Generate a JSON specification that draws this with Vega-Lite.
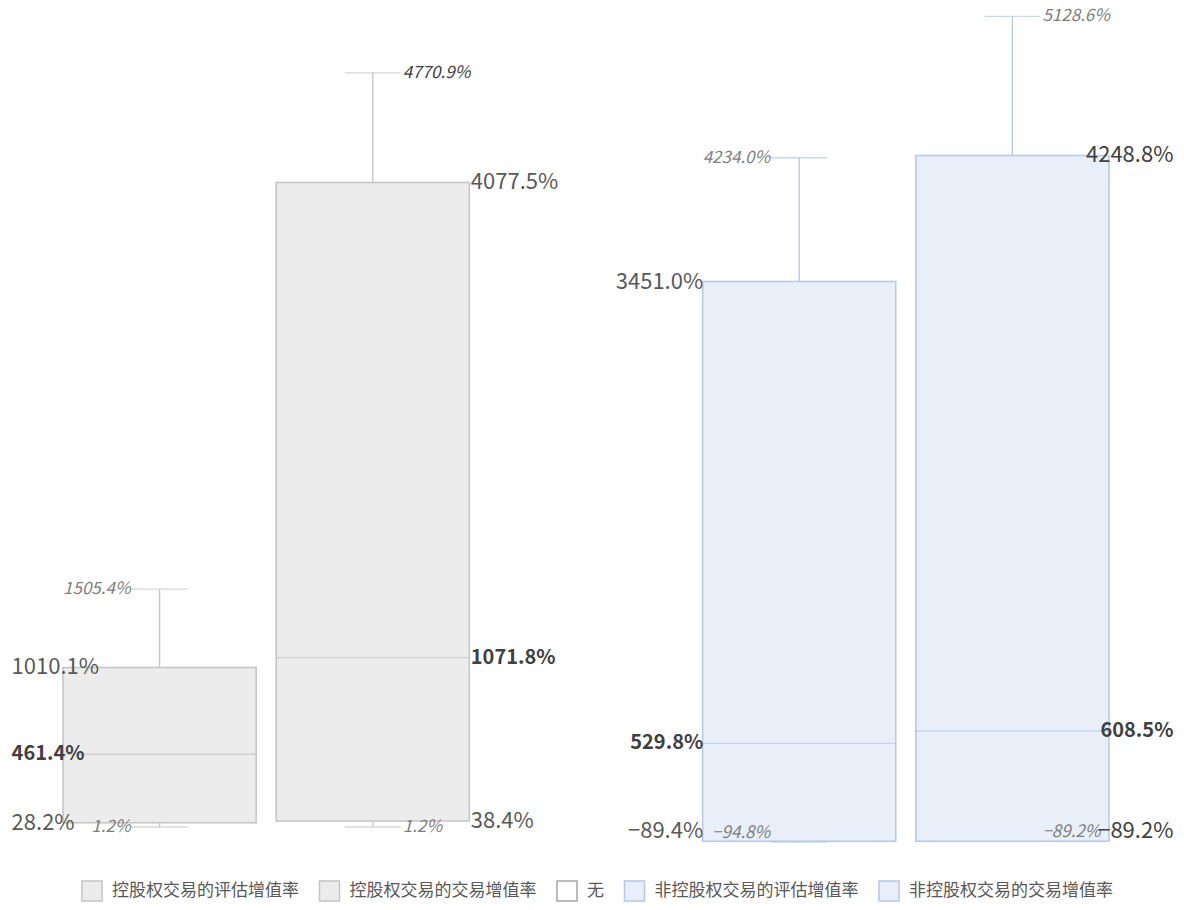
{
  "$schema": "https://vega.github.io/schema/vega-lite/v6.json",
  "autosize": "none",
  "width": 1066,
  "height": 838,
  "padding": {"left": 53, "top": 5, "right": 65, "bottom": 67},
  "background": "white",
  "data": {
    "values": [
      {"series": "控股权交易的评估增值率", "min": 0.012, "q1": 0.282, "median": 4.614, "q3": 10.101, "max": 15.054},
      {"series": "控股权交易的交易增值率", "min": 0.012, "q1": 0.384, "median": 10.718, "q3": 40.775, "max": 47.709},
      {"series": "非控股权交易的评估增值率", "min": -0.948, "q1": -0.894, "median": 5.298, "q3": 34.51, "max": 42.34},
      {"series": "非控股权交易的交易增值率", "min": -0.892, "q1": -0.892, "median": 6.085, "q3": 42.488, "max": 51.286}
    ]
  },
  "encoding": {
    "x": {
      "field": "series",
      "type": "nominal",
      "axis": null,
      "scale": {
        "domain": ["控股权交易的评估增值率", "控股权交易的交易增值率", "无", "非控股权交易的评估增值率", "非控股权交易的交易增值率"],
        "paddingInner": 0.094,
        "paddingOuter": 0.047
      }
    }
  },
  "layer": [
    {
      "mark": {"type": "rule", "strokeWidth": 1.3},
      "encoding": {
        "y": {"field": "q3", "type": "quantitative", "axis": null, "scale": {"domain": [-1, 52], "nice": false, "zero": false}},
        "y2": {"field": "max"},
        "color": {"field": "series", "type": "nominal", "legend": null,
          "scale": {"domain": ["控股权交易的评估增值率", "控股权交易的交易增值率", "非控股权交易的评估增值率", "非控股权交易的交易增值率"],
                    "range": ["#c4c4c4", "#c4c4c4", "#b4c7e7", "#b4c7e7"]}}
      }
    },
    {
      "mark": {"type": "rule", "strokeWidth": 1.3},
      "encoding": {
        "y": {"field": "min", "type": "quantitative"},
        "y2": {"field": "q1"},
        "color": {"field": "series", "type": "nominal", "legend": null}
      }
    },
    {
      "mark": {"type": "tick", "size": 56, "thickness": 1.3},
      "encoding": {
        "y": {"field": "max", "type": "quantitative"},
        "color": {"field": "series", "type": "nominal", "legend": null}
      }
    },
    {
      "mark": {"type": "tick", "size": 56, "thickness": 1.3},
      "encoding": {
        "y": {"field": "min", "type": "quantitative"},
        "color": {"field": "series", "type": "nominal", "legend": null}
      }
    },
    {
      "mark": {"type": "bar", "strokeWidth": 1.5},
      "encoding": {
        "y": {"field": "q1", "type": "quantitative"},
        "y2": {"field": "q3"},
        "fill": {
          "field": "series", "type": "nominal",
          "scale": {"domain": ["控股权交易的评估增值率", "控股权交易的交易增值率", "无", "非控股权交易的评估增值率", "非控股权交易的交易增值率"],
                    "range": ["#ececec", "#ececec", "#ffffff", "#e9eff8", "#e9eff8"]},
          "legend": {"title": null, "orient": "none", "legendX": 28, "legendY": 875, "direction": "horizontal"}
        },
        "stroke": {
          "field": "series", "type": "nominal",
          "scale": {"domain": ["控股权交易的评估增值率", "控股权交易的交易增值率", "无", "非控股权交易的评估增值率", "非控股权交易的交易增值率"],
                    "range": ["#c4c4c4", "#c4c4c4", "#a6a6a6", "#b4c7e7", "#b4c7e7"]},
          "legend": {"title": null, "orient": "none", "legendX": 28, "legendY": 875, "direction": "horizontal"}
        }
      }
    },
    {
      "mark": {"type": "tick", "size": 193, "thickness": 1.3},
      "encoding": {
        "y": {"field": "median", "type": "quantitative"},
        "color": {"field": "series", "type": "nominal", "legend": null}
      }
    },
    {
      "transform": [
        {"fold": ["min", "max"], "as": ["stat", "value"]}
      ],
      "mark": {
        "type": "text",
        "font": "Noto Sans CJK SC",
        "fontStyle": "italic",
        "fontSize": 17,
        "baseline": "middle",
        "align": {"expr": "indexof(datum.series, '评估') >= 0 ? 'right' : 'left'"},
        "dx": {"expr": "indexof(datum.series, '评估') >= 0 ? -29 : 30"},
        "dy": {"expr": "datum.value < 0 ? -9 : 0"}
      },
      "encoding": {
        "y": {"field": "value", "type": "quantitative"},
        "text": {"field": "value", "type": "quantitative", "format": ".1%"},
        "color": {
          "condition": {"test": "datum.series == '控股权交易的交易增值率' && datum.stat == 'max'", "value": "#404040"},
          "value": "#7f7f7f"
        }
      }
    },
    {
      "transform": [
        {"fold": ["q1", "q3"], "as": ["stat", "value"]}
      ],
      "mark": {
        "type": "text",
        "font": "Noto Sans CJK SC",
        "fontSize": 22,
        "baseline": "middle",
        "align": {"expr": "indexof(datum.series, '非') == 0 ? 'right' : 'left'"},
        "dx": {"expr": "datum.series == '控股权交易的评估增值率' ? -148 : datum.series == '控股权交易的交易增值率' ? 98 : datum.series == '非控股权交易的评估增值率' ? -96 : 161"},
        "dy": {"expr": "datum.value < 0 ? -10 : 0"}
      },
      "encoding": {
        "y": {"field": "value", "type": "quantitative"},
        "text": {"field": "value", "type": "quantitative", "format": ".1%"},
        "color": {
          "condition": {"test": "datum.series == '非控股权交易的交易增值率'", "value": "#404040"},
          "value": "#595959"
        }
      }
    },
    {
      "transform": [
        {"fold": ["median"], "as": ["stat", "value"]}
      ],
      "mark": {
        "type": "text",
        "font": "Noto Sans CJK SC",
        "fontSize": 20,
        "fontWeight": "bold",
        "baseline": "middle",
        "color": "#404040",
        "align": {"expr": "indexof(datum.series, '非') == 0 ? 'right' : 'left'"},
        "dx": {"expr": "datum.series == '控股权交易的评估增值率' ? -148 : datum.series == '控股权交易的交易增值率' ? 98 : datum.series == '非控股权交易的评估增值率' ? -96 : 161"}
      },
      "encoding": {
        "y": {"field": "value", "type": "quantitative"},
        "text": {"field": "value", "type": "quantitative", "format": ".1%"}
      }
    }
  ],
  "config": {
    "view": {"stroke": null},
    "font": "Noto Sans CJK SC",
    "legend": {
      "padding": 0,
      "symbolType": "square",
      "symbolSize": 400,
      "symbolStrokeWidth": 1.5,
      "labelOffset": 9,
      "columnPadding": 17.5,
      "labelFontSize": 17,
      "labelColor": "#595959",
      "labelFont": "Noto Sans CJK SC",
      "labelLimit": 300
    }
  }
}
